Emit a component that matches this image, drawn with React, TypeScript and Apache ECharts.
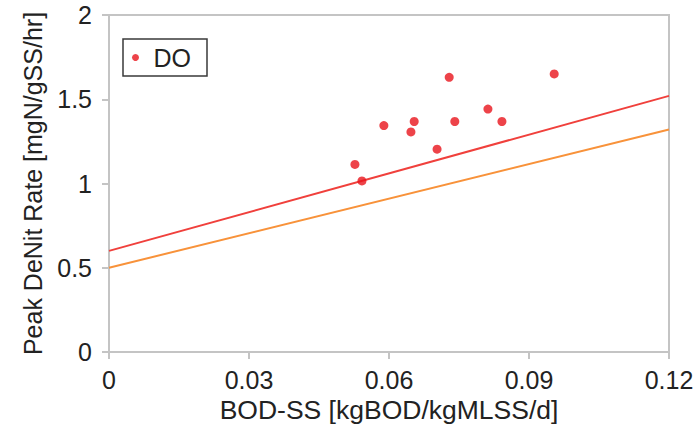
import React, { useEffect, useRef } from "react";
import * as echarts from "echarts";

const xTicks = [0, 0.03, 0.06, 0.09, 0.12];
const yTicks = [0, 0.5, 1, 1.5, 2];

const doX = [0.0527, 0.0542, 0.0589, 0.0647, 0.0654, 0.0703, 0.0729, 0.0741, 0.0812, 0.0842, 0.0954];
const doY = [1.113, 1.015, 1.344, 1.306, 1.368, 1.204, 1.630, 1.368, 1.442, 1.368, 1.650];

const redLineX = [0, 0.12];
const redLineY = [0.6, 1.52];
const orangeLineX = [0, 0.12];
const orangeLineY = [0.5, 1.32];

const FONT = "'Liberation Sans', Arial, Helvetica, sans-serif";

export default function App() {
  const ref = useRef<HTMLDivElement>(null);
  useEffect(() => {
    if (!ref.current) return;
    const chart = echarts.init(ref.current, undefined, { renderer: "svg" });
    const axisColor = "#c4c4c4";
    chart.setOption({
      animation: false,
      backgroundColor: "#ffffff",
      textStyle: { fontFamily: FONT },
      grid: {
        left: 109,
        right: 24,
        top: 15,
        bottom: 79,
        show: true,
        borderColor: axisColor,
        borderWidth: 2,
        containLabel: false,
        outerBoundsMode: "none",
      },
      legend: {
        data: ["DO"],
        left: 123,
        top: 39,
        orient: "vertical",
        padding: [6, 16, 6, 9],
        borderColor: "#3a3a3a",
        borderWidth: 1.5,
        borderRadius: 0,
        icon: "circle",
        itemWidth: 14,
        itemHeight: 7,
        itemGap: 0,
        textStyle: { fontSize: 25, color: "#222", fontFamily: FONT, padding: [0, 0, 0, 6] },
      },
      xAxis: {
        type: "value",
        min: xTicks[0],
        max: xTicks[xTicks.length - 1],
        interval: 0.03,
        name: "BOD-SS [kgBOD/kgMLSS/d]",
        nameLocation: "middle",
        nameGap: 44,
        nameTextStyle: { fontSize: 26.5, color: "#222", fontFamily: FONT },
        axisLine: { show: true, lineStyle: { color: axisColor, width: 2 } },
        axisTick: { show: true, length: 7, lineStyle: { color: axisColor, width: 2 } },
        axisLabel: {
          fontSize: 25,
          color: "#222",
          margin: 15,
          formatter: (v: number) => String(parseFloat(v.toFixed(2))),
        },
        splitLine: { show: false },
      },
      yAxis: {
        type: "value",
        min: yTicks[0],
        max: yTicks[yTicks.length - 1],
        interval: 0.5,
        name: "Peak DeNit Rate [mgN/gSS/hr]",
        nameLocation: "middle",
        nameGap: 64,
        nameTextStyle: { fontSize: 25, color: "#222", fontFamily: FONT },
        axisLine: { show: true, lineStyle: { color: axisColor, width: 2 } },
        axisTick: { show: true, length: 7, lineStyle: { color: axisColor, width: 2 } },
        axisLabel: { fontSize: 25, color: "#222", margin: 17 },
        splitLine: { show: false },
      },
      series: [
        {
          name: "RedLine",
          type: "line",
          data: redLineX.map((x, i) => [x, redLineY[i]]),
          showSymbol: false,
          symbol: "none",
          lineStyle: { color: "#f0403c", width: 2 },
          z: 2,
        },
        {
          name: "OrangeLine",
          type: "line",
          data: orangeLineX.map((x, i) => [x, orangeLineY[i]]),
          showSymbol: false,
          symbol: "none",
          lineStyle: { color: "#f8923a", width: 2 },
          z: 2,
        },
        {
          name: "DO",
          type: "scatter",
          data: doX.map((x, i) => [x, doY[i]]),
          symbol: "circle",
          symbolSize: 9,
          itemStyle: { color: "#e8141c" },
          z: 3,
        },
      ],
    });
    return () => chart.dispose();
  }, []);
  return <div ref={ref} style={{ width: 693, height: 431, position: "absolute", left: 0, top: 0 }} />;
}
